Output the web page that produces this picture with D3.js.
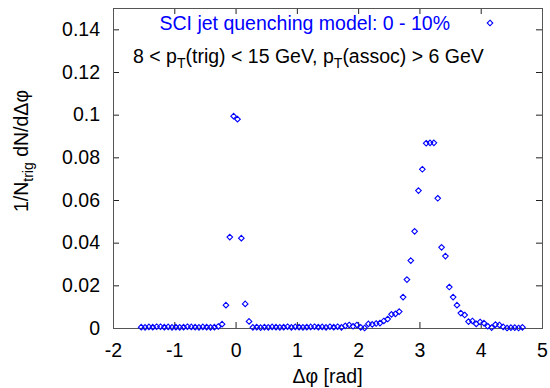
<!DOCTYPE html>
<html>
<head>
<meta charset="utf-8">
<script src="https://cdn.jsdelivr.net/npm/d3@7"></script>
<style>
  body { margin: 0; background: #fff; }
  text { font-family: "Liberation Sans", Arial, sans-serif; }
</style>
</head>
<body>
<div class="chart"></div>
<script>
// bin centres of delta phi (rad)
const phi = [
  -1.5394, -1.4765, -1.4137, -1.3509, -1.2881, -1.2252, -1.1624, -1.0996, -1.0367, -0.9739,
  -0.9111, -0.8482, -0.7854, -0.7226, -0.6597, -0.5969, -0.5341, -0.4712, -0.4084, -0.3456,
  -0.2827, -0.2199, -0.1571, -0.0942, -0.0314, 0.0314, 0.0942, 0.1571, 0.2199, 0.2827,
  0.3456, 0.4084, 0.4712, 0.5341, 0.5969, 0.6597, 0.7226, 0.7854, 0.8482, 0.9111,
  0.9739, 1.0367, 1.0996, 1.1624, 1.2252, 1.2881, 1.3509, 1.4137, 1.4765, 1.5394,
  1.6022, 1.6650, 1.7279, 1.7907, 1.8535, 1.9164, 1.9792, 2.0420, 2.1049, 2.1677,
  2.2305, 2.2934, 2.3562, 2.4190, 2.4819, 2.5447, 2.6075, 2.6704, 2.7332, 2.7960,
  2.8588, 2.9217, 2.9845, 3.0473, 3.1102, 3.1730, 3.2358, 3.2987, 3.3615, 3.4243,
  3.4872, 3.5500, 3.6128, 3.6757, 3.7385, 3.8013, 3.8642, 3.9270, 3.9898, 4.0527,
  4.1155, 4.1783, 4.2412, 4.3040, 4.3668, 4.4297, 4.4925, 4.5553, 4.6182, 4.6810
]
// 1/Ntrig dN/d(delta phi)
const yield_ = [
  0.0004, 0.0003, 0.0005, 0.0004, 0.0006, 0.0006, 0.0004, 0.0005, 0.0003, 0.0004,
  0.0003, 0.0004, 0.0006, 0.0005, 0.0004, 0.0003, 0.0005, 0.0004, 0.0003, 0.0004,
  0.0007, 0.0018, 0.0107, 0.0426, 0.0993, 0.0979, 0.0421, 0.0113, 0.0031, 0.0003,
  0.0004, 0.0002, 0.0004, 0.0003, 0.0005, 0.0004, 0.0003, 0.0004, 0.0006, 0.0003,
  0.0005, 0.0004, 0.0003, 0.0004, 0.0005, 0.0006, 0.0004, 0.0005, 0.0003, 0.0006,
  0.0004, 0.0006, 0.0003, 0.0010, 0.0014, 0.0008, 0.0014, 0.0003, 0.0000, 0.0019,
  0.0017, 0.0021, 0.0023, 0.0033, 0.0042, 0.0064, 0.0066, 0.0077, 0.0145, 0.0227,
  0.0316, 0.0453, 0.0644, 0.0744, 0.0866, 0.0868, 0.0868, 0.0608, 0.0378, 0.0337,
  0.0192, 0.0145, 0.0107, 0.0070, 0.0061, 0.0030, 0.0033, 0.0019, 0.0028, 0.0023,
  0.0008, 0.0002, 0.0016, 0.0014, 0.0005, 0.0000, 0.0002, 0.0002, 0.0000, 0.0003
]
const xTicks = [-2, -1, 0, 1, 2, 3, 4, 5]
const yTicks = [0, 0.02, 0.04, 0.06, 0.08, 0.1, 0.12, 0.14]

const data = phi.map((p, i) => ({phi: p, y: yield_[i]}))

const margin = ({top: 8, right: 8, bottom: 60, left: 113})
const W = 550, H = 388
const width = W - margin.left - margin.right,
      height = H - margin.top - margin.bottom

const svg = d3.select(".chart").append("svg")
  .attr("width", W)
  .attr("height", H)
  .append("g")
  .attr("transform", "translate(" + margin.left + "," + margin.top + ")")

const x = d3.scaleLinear().domain([-2, 5]).range([0, width])
const y = d3.scaleLinear().domain([0, 0.15]).range([height, 0])

const tickLen = 6
const fs = 19.5
const fmtY = d => String(+d.toFixed(2))
const fmtX = d => String(d)

// ticks, mirrored on all four sides, pointing inward
const xAxis = d3.axisBottom(x).tickValues(xTicks).tickSizeInner(-tickLen).tickSizeOuter(0).tickPadding(15).tickFormat(fmtX)
const yAxis = d3.axisLeft(y).tickValues(yTicks).tickSizeInner(-tickLen).tickSizeOuter(0).tickPadding(13).tickFormat(fmtY)

let xAxisGroup = svg.append("g")
  .attr("class", "axis x-axis")
  .attr("transform", `translate(0, ${height})`)
  .call(xAxis)
let yAxisGroup = svg.append("g")
  .attr("class", "axis y-axis")
  .call(yAxis)

svg.append("g")
  .call(d3.axisTop(x).tickValues(xTicks).tickSizeInner(-tickLen).tickSizeOuter(0).tickFormat(""))
svg.append("g")
  .attr("transform", `translate(${width},0)`)
  .call(d3.axisRight(y).tickValues(yTicks).tickSizeInner(-tickLen).tickSizeOuter(0).tickFormat(""))

svg.selectAll(".domain").remove()
svg.selectAll(".tick line").attr("stroke", "#222")
svg.selectAll(".tick text")
  .attr("font-size", fs)
  .attr("fill", "#000")
  .attr("font-family", "Liberation Sans, Arial, sans-serif")

// frame
svg.append("rect")
  .attr("x", 0.5).attr("y", 0.5)
  .attr("width", width).attr("height", height)
  .attr("fill", "none")
  .attr("stroke", "#555")

// diamond markers
const diamond = (cx, cy, r) => `M${cx},${cy - r}L${cx + r},${cy}L${cx},${cy + r}L${cx - r},${cy}Z`

svg.append("g")
  .selectAll("path")
  .data(data)
  .enter()
  .append("path")
  .attr("d", d => diamond(x(d.phi), y(d.y), 2.8))
  .attr("fill", "none")
  .attr("stroke", "#0000ff")
  .attr("stroke-width", 1.1)

// key
svg.append("text")
  .attr("x", 337)
  .attr("y", 22)
  .attr("text-anchor", "end")
  .attr("font-size", fs)
  .attr("fill", "#0000ff")
  .text("SCI jet quenching model: 0 - 10%")
svg.append("path")
  .attr("d", diamond(377, 15, 2.8))
  .attr("fill", "none")
  .attr("stroke", "#0000ff")
  .attr("stroke-width", 1.1)

const cut = svg.append("text")
  .attr("x", 20)
  .attr("y", 55)
  .attr("font-size", fs)
  .attr("fill", "#000")
cut.append("tspan").text("8 < p")
cut.append("tspan").attr("dy", 5).attr("font-size", 14).text("T")
cut.append("tspan").attr("dy", -5).text("(trig) < 15 GeV, p")
cut.append("tspan").attr("dy", 5).attr("font-size", 14).text("T")
cut.append("tspan").attr("dy", -5).text("(assoc) > 6 GeV")

// axis titles
svg.append("text")
  .attr("x", width / 2)
  .attr("y", height + 55)
  .attr("text-anchor", "middle")
  .attr("font-size", fs)
  .text("\u0394\u03c6 [rad]")

const yl = svg.append("text")
  .attr("transform", `translate(${28 - margin.left}, 143) rotate(-90)`)
  .attr("text-anchor", "middle")
  .attr("font-size", fs)
yl.append("tspan").text("1/N")
yl.append("tspan").attr("dy", 5).attr("font-size", 14).text("trig")
yl.append("tspan").attr("dy", -5).text(" dN/d\u0394\u03c6")
</script>
</body>
</html>
